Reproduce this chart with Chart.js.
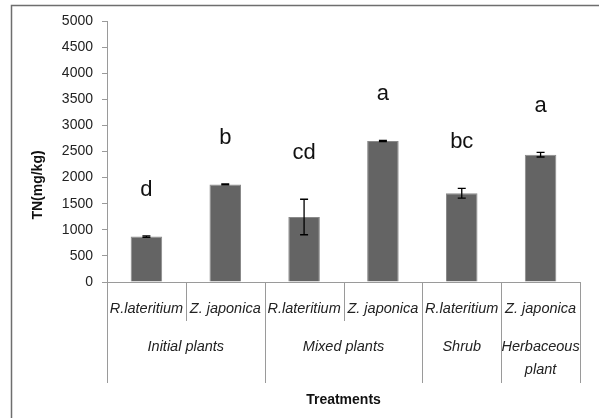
<!DOCTYPE html>
<html>
<head>
<meta charset="utf-8">
<script src="https://cdn.jsdelivr.net/npm/chart.js@4/dist/chart.umd.min.js"></script>
<style>
html,body{margin:0;padding:0;background:#fff;}
#wrap{width:599px;height:418px;position:relative;}
</style>
</head>
<body>
<div id="wrap"><canvas id="c" width="599" height="418"></canvas></div>
<script>
const categories = ['R.lateritium', 'Z. japonica', 'R.lateritium', 'Z. japonica', 'R.lateritium', 'Z. japonica'];
const groupLabels = [['Initial plants'], ['Mixed plants'], ['Shrub'], ['Herbaceous', 'plant']];
const groupSpans = [2, 2, 1, 1];
const values = [870, 1870, 1245, 2700, 1700, 2440];
const errors = [15, 10, 340, 12, 95, 45];
const letters = ['d', 'b', 'cd', 'a', 'bc', 'a'];
const yMin = 0, yMax = 5000, yStep = 500;
const yTitle = 'TN(mg/kg)';
const xTitle = 'Treatments';

const FONT = '"Liberation Sans", Arial, sans-serif';

const decor = {
  id: 'decor',
  afterDatasetsDraw(chart) {
    const ctx = chart.ctx;
    const x = chart.scales.x, y = chart.scales.y;
    ctx.save();
    ctx.strokeStyle = '#000';
    ctx.lineWidth = 1.3;
    values.forEach((v, i) => {
      const px = x.getPixelForValue(i);
      const top = y.getPixelForValue(v + errors[i]);
      const bot = y.getPixelForValue(v - errors[i]);
      ctx.beginPath();
      ctx.moveTo(px, top); ctx.lineTo(px, bot);
      ctx.moveTo(px - 4, top); ctx.lineTo(px + 4, top);
      ctx.moveTo(px - 4, bot); ctx.lineTo(px + 4, bot);
      ctx.stroke();
      ctx.fillStyle = '#111';
      ctx.font = '22px ' + FONT;
      ctx.textAlign = 'center';
      ctx.textBaseline = 'alphabetic';
      ctx.fillText(letters[i], px, top - 40);
    });
    ctx.restore();
  },
  afterDraw(chart) {
    const ctx = chart.ctx;
    const x = chart.scales.x;
    const ca = chart.chartArea;
    const half = (x.getPixelForValue(1) - x.getPixelForValue(0)) / 2;
    ctx.save();
    ctx.strokeStyle = '#6e6e6e';
    ctx.lineWidth = 1.5;
    ctx.beginPath();
    ctx.moveTo(11.5, 418); ctx.lineTo(11.5, 5.5); ctx.lineTo(599, 5.5);
    ctx.stroke();
    ctx.strokeStyle = '#9a9a9a';
    ctx.lineWidth = 1;
    ctx.beginPath();
    ctx.moveTo(ca.left, ca.bottom + 0.5); ctx.lineTo(ca.right, ca.bottom + 0.5);
    ctx.stroke();
    ctx.fillStyle = '#222';
    ctx.textAlign = 'center';
    ctx.textBaseline = 'middle';
    ctx.font = 'italic 14.5px ' + FONT;
    categories.forEach((c, i) => {
      ctx.fillText(c, x.getPixelForValue(i), ca.bottom + 27);
    });
    let idx = 0;
    const bounds = [];
    groupSpans.forEach(s => { bounds.push(idx); idx += s; });
    bounds.push(idx);
    ctx.beginPath();
    for (let i = 0; i <= categories.length; i++) {
      const px = Math.round(x.getPixelForValue(i) - half) + 0.5;
      const long = bounds.includes(i);
      ctx.moveTo(px, ca.bottom);
      ctx.lineTo(px, ca.bottom + (long ? 101 : 39));
    }
    ctx.stroke();
    groupLabels.forEach((lines, g) => {
      const a = bounds[g], b = bounds[g + 1];
      const cx = (x.getPixelForValue(a) + x.getPixelForValue(b - 1)) / 2;
      lines.forEach((t, k) => ctx.fillText(t, cx, ca.bottom + 65 + k * 23));
    });
    ctx.font = 'bold 14px ' + FONT;
    ctx.fillStyle = '#111';
    ctx.fillText(xTitle, (ca.left + ca.right) / 2, 400);
    ctx.translate(38, 185);
    ctx.rotate(-Math.PI / 2);
    ctx.fillText(yTitle, 0, 0);
    ctx.restore();
  }
};

new Chart(document.getElementById('c'), {
  type: 'bar',
  data: {
    labels: categories,
    datasets: [{
      data: values,
      backgroundColor: '#646464',
      borderColor: '#8a8a8a',
      borderWidth: 1,
      categoryPercentage: 1,
      barPercentage: 0.4
    }]
  },
  options: {
    responsive: false,
    animation: false,
    devicePixelRatio: 1,
    layout: { padding: { top: 21, right: 19, bottom: 136, left: 0 } },
    plugins: { legend: { display: false }, tooltip: { enabled: false } },
    scales: {
      x: { display: false },
      y: {
        min: yMin, max: yMax,
        afterFit(s) { s.width = 107; },
        ticks: { stepSize: yStep, padding: 9, color: '#222', font: { family: FONT, size: 14 },
                 callback: v => String(v) },
        grid: { drawOnChartArea: false, tickLength: 5, color: '#9a9a9a' },
        border: { color: '#9a9a9a' }
      }
    }
  },
  plugins: [decor]
});
</script>
</body>
</html>
